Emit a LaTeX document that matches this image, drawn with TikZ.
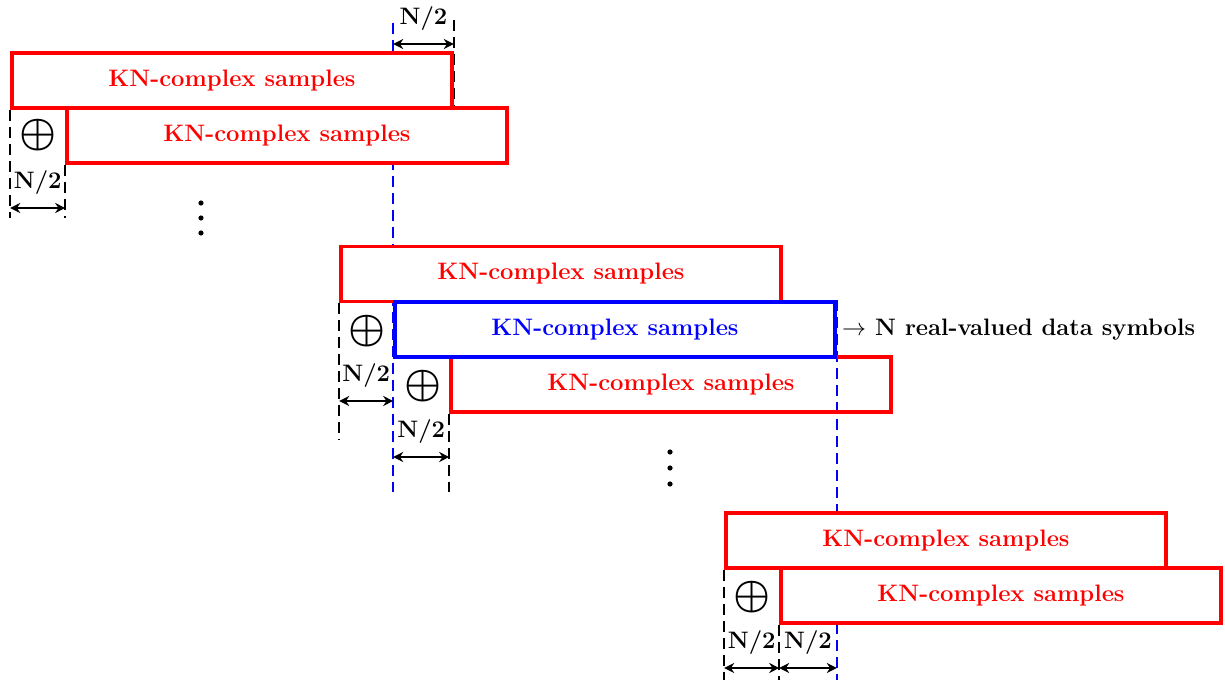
\documentclass[tikz,border=0pt]{standalone}
\usepackage{amsmath}
\usetikzlibrary{backgrounds,arrows.meta}
\begin{document}
\begin{tikzpicture}[x=0.5pt, y=-0.5pt,
    block/.style={rectangle, draw=red, line width=1.8pt, fill=white, minimum width=220pt, minimum height=27.5pt, inner sep=0pt, text=red, font=\fontsize{11.9}{13}\selectfont\bfseries},
    active/.style={block, draw=blue, text=blue},
    guide/.style={dash pattern=on 5.5pt off 3pt, line width=1.1pt},
    sync/.style={guide, blue},
    span/.style={<->, >={Stealth[length=5pt, width=5pt]}, line width=1.3pt},
    half/.style={font=\fontsize{11.9}{13}\selectfont\bfseries, inner sep=1pt},
    xor/.style={font=\fontsize{22}{24}\selectfont, inner sep=0pt},
    dot/.style={circle, fill=black, inner sep=0pt, minimum size=2.6pt},
]
\useasboundingbox (0,0) rectangle (1225,684);

\node[block] (b1) at (232,80.5) {KN-complex samples};
\node[block] (b2) at (287,135.5) {KN-complex samples};
\node[block] (b3) at (561,274) {KN-complex samples};
\node[block, fill=none] (b5) at (671,384.5) {KN-complex samples};
\node[active] (b4) at (615,329.5) {KN-complex samples};
\node[block] (b6) at (946,540.5) {KN-complex samples};
\node[block] (b7) at (1001,595.5) {KN-complex samples};

\node[half, anchor=west] (out) at ([xshift=1.5pt]b4.east) {$\rightarrow$ N real-valued data symbols};

\node[xor] (x1) at (38,135) {$\boldsymbol{\oplus}$};
\node[xor] (x2) at (367,331) {$\boldsymbol{\oplus}$};
\node[xor] (x3) at (423,386) {$\boldsymbol{\oplus}$};
\node[xor] (x4) at (752,597) {$\boldsymbol{\oplus}$};

\node[dot] (d1) at (201,203) {};
\node[dot] (d2) at (201,218) {};
\node[dot] (d3) at (201,233) {};
\node[dot] (d4) at (670,452) {};
\node[dot] (d5) at (670,468) {};
\node[dot] (d6) at (670,484) {};

\begin{scope}[on background layer]
\draw[sync] (b4.west |- 0,23) -- (b4.west |- 0,492);
\draw[sync] (b4.north east) -- (b4.east |- 0,680);
\draw[guide] (b1.east |- 0,20) -- (b1.east |- 0,112);
\draw[guide] (b1.south west) -- (b1.west |- 0,218);
\draw[guide] (b2.south west) -- (b2.west |- 0,218);
\draw[guide] (b3.south west) -- (b3.west |- 0,440);
\draw[guide] (b5.south west) -- (b5.west |- 0,492);
\draw[guide] (b6.south west) -- (b6.west |- 0,680);
\draw[guide] (b7.south west) -- (b7.west |- 0,680);
\end{scope}

\draw[span] (b4.west |- 0,44) -- (b1.east |- 0,44) node[midway, above=5pt, half] {N/2};
\draw[span] (b1.west |- 0,208) -- (b2.west |- 0,208) node[midway, above=5pt, half] {N/2};
\draw[span] (b3.west |- 0,401) -- (b4.west |- 0,401) node[midway, above=5pt, half] {N/2};
\draw[span] (b4.west |- 0,457) -- (b5.west |- 0,457) node[midway, above=5pt, half] {N/2};
\draw[span] (b6.west |- 0,668) -- (b7.west |- 0,668) node[midway, above=5pt, half] {N/2};
\draw[span] (b7.west |- 0,668) -- (b4.east |- 0,668) node[midway, above=5pt, half] {N/2};
\end{tikzpicture}
\end{document}
